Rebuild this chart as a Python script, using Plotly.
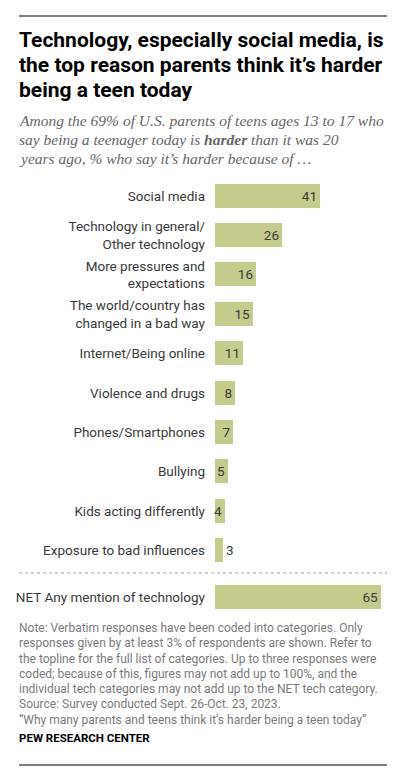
import plotly.graph_objects as go

# Page is rendered with an 8px body margin; figure placed so page coords match.
PAGE_W, PAGE_H = 399, 772
OX, OY = 8, 8
W, H = PAGE_W - OX, PAGE_H - OY

categories = [
    "Social media",
    "Technology in general/<br>Other technology",
    "More pressures and<br>expectations",
    "The world/country has<br>changed in a bad way",
    "Internet/Being online",
    "Violence and drugs",
    "Phones/Smartphones",
    "Bullying",
    "Kids acting differently",
    "Exposure to bad influences",
]
values = [41, 26, 16, 15, 11, 8, 7, 5, 4, 3]
net_categories = ["NET Any mention of technology"]
net_values = [65]

title_lines = [
    "Technology, especially social media, is",
    "the top reason parents think it\u2019s harder",
    "being a teen today",
]
subtitle_lines = [
    "Among the 69% of U.S. parents of teens ages 13 to 17 who",
    "say being a teenager today is <b>harder</b> than it was 20",
    "years ago, % who say it\u2019s harder because of \u2026",
]
note_lines = [
    "Note: Verbatim responses have been coded into categories. Only",
    "responses given by at least 3% of respondents are shown. Refer to",
    "the topline for the full list of categories. Up to three responses were",
    "coded; because of this, figures may not add up to 100%, and the",
    "individual tech categories may not add up to the NET tech category.",
    "Source: Survey conducted Sept. 26-Oct. 23, 2023.",
    "\u201cWhy many parents and teens think it\u2019s harder being a teen today\u201d",
]
credit_text = "PEW RESEARCH CENTER"

SANS = "Roboto, Arial, sans-serif"
SERIF = "Liberation Serif, Georgia, serif"
BAR_COLOR = "#C4CB8D"
LABEL_COLOR = "#3a3a3a"


def fx(px):
    return (px - OX) / W


def fy(py):
    return 1 - (py - OY) / H


BAR_X0 = 215
PX_PER_UNIT = 105 / 41
X_MAX = (PAGE_W - BAR_X0) / PX_PER_UNIT

ROW = (550.5 - 196) / 9
MAIN_TOP = 196 - ROW / 2
MAIN_BOT = 550.5 + ROW / 2
NET_TOP = 597 - ROW / 2
NET_BOT = 597 + ROW / 2
BAR_W = 24 / ROW


def positions(vals):
    return ["inside" if v >= 4 else "outside" for v in vals]


fig = go.Figure()
for xs, ys, xa, ya in [(values, categories, "x", "y"),
                       (net_values, net_categories, "x2", "y2")]:
    fig.add_trace(go.Bar(
        x=xs, y=ys, orientation="h",
        marker=dict(color=BAR_COLOR, line=dict(width=0)),
        width=BAR_W,
        text=[str(v) for v in xs],
        textposition=positions(xs),
        insidetextanchor="end",
        textfont=dict(family=SANS, size=13.5, color=LABEL_COLOR),
        cliponaxis=False, hoverinfo="skip",
        xaxis=xa, yaxis=ya,
    ))

xcommon = dict(domain=[fx(BAR_X0), fx(PAGE_W)], range=[0, X_MAX], visible=False,
               showgrid=False, zeroline=False, fixedrange=True)
ycommon = dict(showgrid=False, zeroline=False, showline=False, ticks="",
               ticklabelstandoff=9,
               tickfont=dict(family=SANS, size=13.5, color=LABEL_COLOR),
               fixedrange=True)

fig.update_layout(
    width=W, height=H,
    margin=dict(l=0, r=0, t=0, b=0),
    paper_bgcolor="white", plot_bgcolor="white",
    showlegend=False,
    bargap=0,
    uniformtext=dict(mode="show", minsize=13.5),
    xaxis=dict(**xcommon, anchor="y"),
    xaxis2=dict(**xcommon, anchor="y2"),
    yaxis=dict(**ycommon, anchor="x", domain=[fy(MAIN_BOT), fy(MAIN_TOP)],
               autorange="reversed", categoryorder="array", categoryarray=categories),
    yaxis2=dict(**ycommon, anchor="x2", domain=[fy(NET_BOT), fy(NET_TOP)]),
)

# rules
for yy, col, wd, dash in [(16, "#555555", 1.5, "solid"), (765, "#555555", 1.5, "solid"),
                          (573, "#a0a0a0", 1, "dot")]:
    fig.add_shape(type="line", xref="paper", yref="paper",
                  x0=fx(19), x1=fx(387), y0=fy(yy), y1=fy(yy),
                  line=dict(color=col, width=wd, dash=dash))


def add_line(text, y_center, font):
    fig.add_annotation(text=text, xref="paper", yref="paper",
                       x=fx(17), y=fy(y_center), xanchor="left", yanchor="middle",
                       align="left", showarrow=False, font=font)


for i, t in enumerate(title_lines):
    add_line("<b>" + t + "</b>", 40 + 25 * i,
             dict(family=SANS, size=21, color="#000000"))
for i, t in enumerate(subtitle_lines):
    add_line(t, 120.5 + 19 * i,
             dict(family=SERIF, size=15.5, color="#666666", style="italic"))
note_y = [628, 643.3, 658.6, 673.9, 689.2, 704.2, 720]
for t, yy in zip(note_lines, note_y):
    add_line(t, yy, dict(family=SANS, size=12, color="#7a7a7a"))
add_line("<b>" + credit_text + "</b>", 738,
         dict(family=SANS, size=11.5, color="#000000"))

fig.write_html("out.html")
